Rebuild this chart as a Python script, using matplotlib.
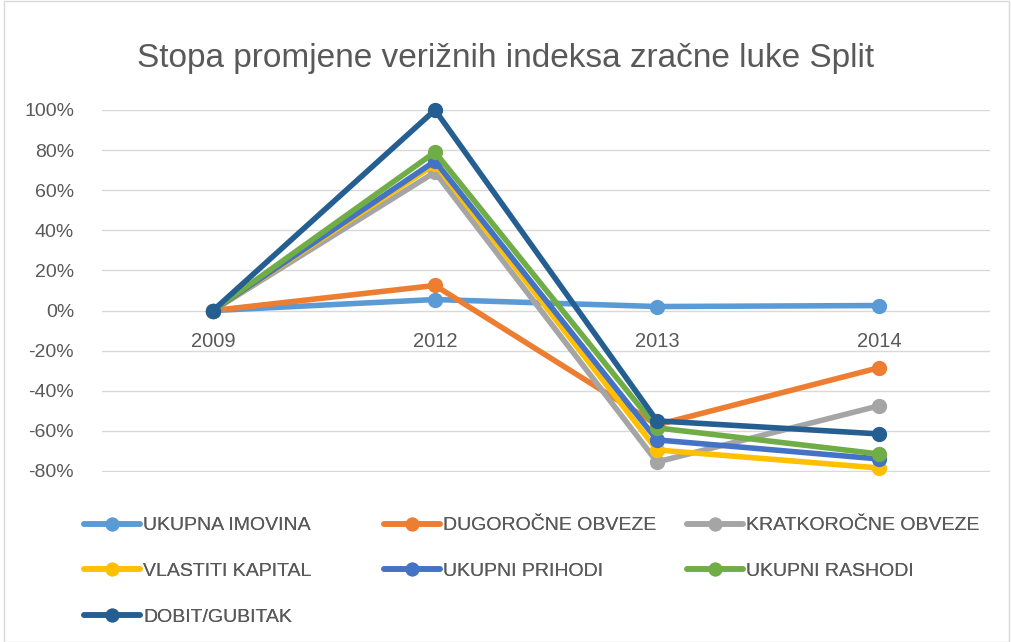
import matplotlib.pyplot as plt
from matplotlib.patches import Rectangle
from matplotlib.ticker import FuncFormatter

# data
years = ["2009", "2012", "2013", "2014"]
ukupna_imovina = [0, 5.5, 2, 2.5]
dugorocne_obveze = [0, 12.5, -57, -28.5]
kratkorocne_obveze = [0, 69, -75.5, -47.5]
vlastiti_kapital = [0, 73, -69.5, -78.5]
ukupni_prihodi = [0, 74.5, -64.5, -74]
ukupni_rashodi = [0, 79, -58.5, -71.5]
dobit_gubitak = [0, 100, -55, -61.5]

names = ["UKUPNA IMOVINA", "DUGOROČNE OBVEZE", "KRATKOROČNE OBVEZE",
         "VLASTITI KAPITAL", "UKUPNI PRIHODI", "UKUPNI RASHODI", "DOBIT/GUBITAK"]
colors = ["#5B9BD5", "#ED7D31", "#A5A5A5", "#FFC000", "#4472C4", "#70AD47", "#255E91"]
series = [ukupna_imovina, dugorocne_obveze, kratkorocne_obveze, vlastiti_kapital,
          ukupni_prihodi, ukupni_rashodi, dobit_gubitak]

plt.rcParams['font.family'] = ['Liberation Sans', 'DejaVu Sans']
text_col = "#595959"

fig = plt.figure(figsize=(10.11, 6.42), dpi=100)
ax = fig.add_axes([102 / 1011, 1 - 472 / 642, 888 / 1011, 362 / 642])

x = range(len(years))
lines = []
for vals, name, c in zip(series, names, colors):
    ln, = ax.plot(x, vals, color=c, lw=4, marker="o", ms=10, label=name,
                  solid_capstyle="round", clip_on=False)
    lines.append(ln)

ax.set_xlim(-0.5, 3.5)
ax.set_ylim(-80.5, 100)
ax.set_yticks(range(-80, 101, 20))
ax.yaxis.set_major_formatter(FuncFormatter(lambda v, p: f"{v:.0f}%"))
ax.grid(axis="y", color="#D9D9D9", lw=1)
ax.set_axisbelow(True)
ax.tick_params(axis="y", length=0, labelsize=14, labelcolor=text_col, pad=20)
ax.set_xticks([])
for s in ax.spines.values():
    s.set_visible(False)
for i, yr in enumerate(years):
    ax.text(i, -15.5, yr, ha="center", va="center", fontsize=14.5, color=text_col)

fig.text(0.5, 1 - 58 / 642, "Stopa promjene verižnih indeksa zračne luke Split",
         ha="center", va="center", fontsize=24, color=text_col)

# legend laid out row by row, three columns
col_x = [78, 378, 681]
for c in range(3):
    idx = list(range(c, len(lines), 3))
    leg = fig.legend([lines[i] for i in idx], [names[i] for i in idx],
                     loc="upper left", bbox_to_anchor=(col_x[c] / 1011, 1 - 511 / 642),
                     frameon=False, fontsize=14, handlelength=2.9, handletextpad=0.15,
                     labelspacing=1.45, borderaxespad=0, borderpad=0.3,
                     labelcolor=text_col, markerscale=0.9)
    fig.add_artist(leg)

fig.patches.append(Rectangle((4 / 1011, 0), 1005 / 1011, 0.998, transform=fig.transFigure,
                             fill=False, edgecolor="#D9D9D9", lw=1))

fig.savefig("out.png", dpi=100)
